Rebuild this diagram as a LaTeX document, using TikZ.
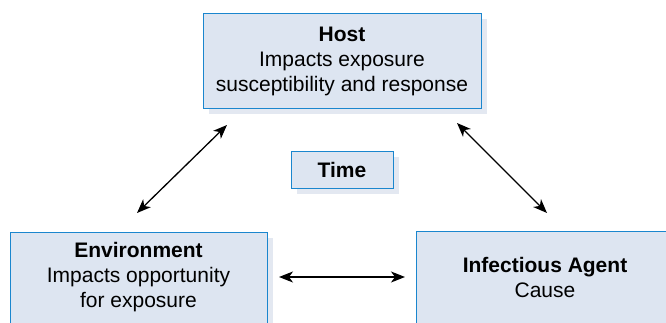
\documentclass[tikz,border=0pt]{standalone}
\usepackage{fontspec}
\setmainfont{Liberation Sans}
\usetikzlibrary{arrows.meta,shadows}
\definecolor{boxfill}{HTML}{DDE5F1}
\definecolor{boxline}{HTML}{1A86CE}
\definecolor{shadowc}{HTML}{E3E8F1}
\begin{document}
\begin{tikzpicture}[x=1pt,y=-1pt,
  box/.style={draw=boxline, line width=1.2pt, fill=boxfill, rectangle, inner sep=0pt, anchor=north west,
    drop shadow={shadow xshift=5pt, shadow yshift=-5pt, fill=shadowc, opacity=1}},
  lbl/.style={align=center, font=\fontsize{21}{25}\selectfont, inner sep=0pt},
  dbl/.style={{Stealth[length=14pt,width=11pt,inset=4pt]}-{Stealth[length=14pt,width=11pt,inset=4pt]}, line width=1.3pt}]
\useasboundingbox (0,0) rectangle (666,323);
\clip (0,0) rectangle (666,323);
% boxes
\node[box, minimum width=278pt, minimum height=95pt] (host) at (203,13) {};
\node[box, minimum width=102pt, minimum height=37pt] (time) at (291,151) {};
\node[box, minimum width=257pt, minimum height=120pt] (env) at (10,232) {};
\node[box, minimum width=280pt, minimum height=120pt] (agent) at (416,231) {};
% texts
\node[lbl] (hostt) at (342,61) {\textbf{Host}\\Impacts exposure\\susceptibility and response};
\node[lbl] (timet) at (342,170) {\textbf{Time}};
\node[lbl] (envt) at (138.5,277) {\textbf{Environment}\\Impacts opportunity\\for exposure};
\node[lbl] (agentt) at (545,277) {\textbf{Infectious Agent}\\Cause};
% arrow ends
\coordinate (a1) at (227,125);
\coordinate (a2) at (137,213);
\coordinate (b1) at (457,123);
\coordinate (b2) at (547,213);
\coordinate (c1) at (279,277);
\coordinate (c2) at (405,277);
\draw[dbl] (a1) -- (a2);
\draw[dbl] (b1) -- (b2);
\draw[dbl] (c1) -- (c2);
\end{tikzpicture}
\end{document}
